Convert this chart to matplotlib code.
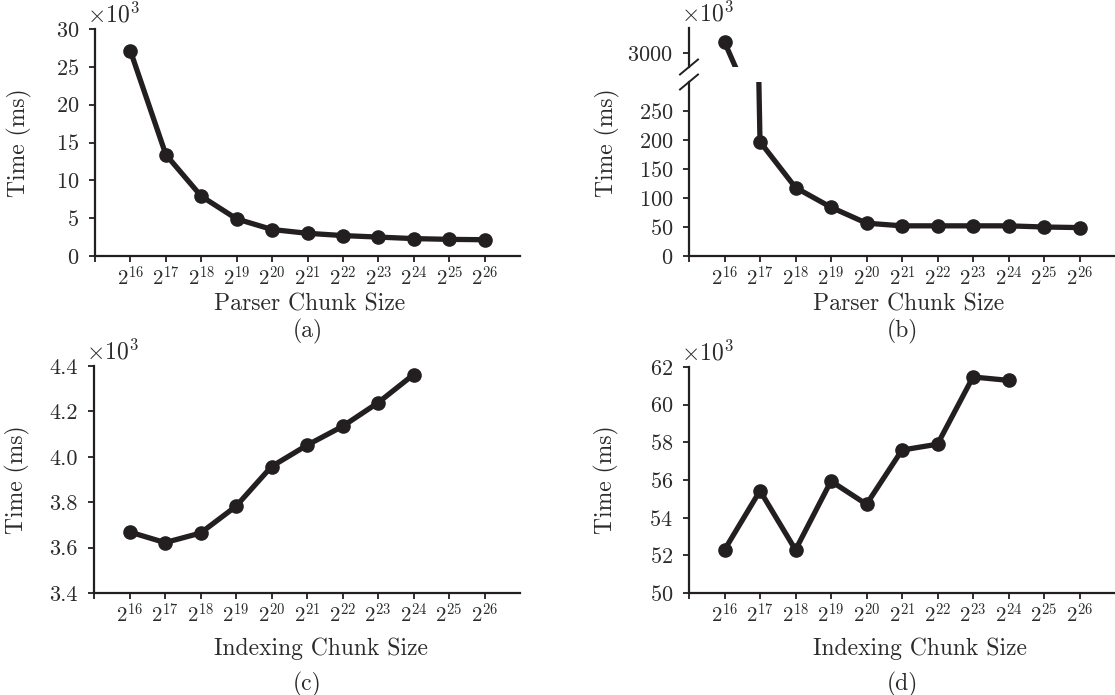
import numpy as np
import matplotlib
matplotlib.use('Agg')
import matplotlib.pyplot as plt

plt.rcParams['font.family'] = 'serif'
plt.rcParams['font.serif'] = ['cmr10']
plt.rcParams['mathtext.fontset'] = 'cm'
plt.rcParams['axes.formatter.use_mathtext'] = True
plt.rcParams['axes.unicode_minus'] = False

# ---------------- data ----------------
exponents = [16, 17, 18, 19, 20, 21, 22, 23, 24, 25, 26]
tick_labels = [''] + [f'$2^{{{e}}}$' for e in exponents]

# (a) parser chunk size, time (x10^3 ms)
parser_a = [27.1, 13.4, 7.9, 4.9, 3.5, 3.0, 2.7, 2.5, 2.3, 2.2, 2.15]
# (b) parser chunk size, time (x10^3 ms), broken axis
parser_b = [3440, 197, 118, 84, 56.6, 52, 52, 52, 52, 50, 49]
# (c) indexing chunk size, time (x10^3 ms)
index_c = [3.669, 3.622, 3.664, 3.782, 3.957, 4.051, 4.134, 4.238, 4.362]
# (d) indexing chunk size, time (x10^3 ms)
index_d = [52.29, 55.43, 52.29, 55.94, 54.71, 57.59, 57.90, 61.47, 61.29]

COL = '#231f20'
TXT = '#2b2b2b'
LW = 3.8
MS = 9.5
FS_TICK = 16
FS_LAB = 17
FS_X = 15

W, H = 1115, 695
fig = plt.figure(figsize=(W / 100, H / 100), dpi=100)


def rect(l, r, t, b):
    return [l / W, 1 - b / H, (r - l) / W, (b - t) / H]


def style(ax, bottom=True):
    for s in ['top', 'right']:
        ax.spines[s].set_visible(False)
    for s in ['left', 'bottom']:
        ax.spines[s].set_linewidth(1.6)
        ax.spines[s].set_color(COL)
    ax.tick_params(direction='out', length=4, width=1.3, colors=COL,
                   labelsize=FS_TICK, labelcolor=TXT)
    ax.tick_params(axis='x', pad=3, labelsize=FS_X)
    ax.tick_params(axis='y', pad=7.5)
    ax.set_xlim(0, 12)
    if bottom:
        ax.set_xticks(np.arange(0, 12))
        ax.set_xticklabels(tick_labels)


def xpos(vals):
    return np.arange(1, len(vals) + 1)


def times10(ax):
    ax.annotate(r'$\times10^3$', xy=(0, 1), xycoords='axes fraction',
                xytext=(-5.5, 1.5), textcoords='offset points',
                ha='left', va='bottom', fontsize=17, color=TXT)


def labels(ax, xl, cap, ylab_x, ylab_y, xl_x, xl_y, cap_off):
    ax.set_ylabel('Time (ms)', fontsize=FS_LAB, color=TXT)
    ax.yaxis.set_label_coords(ylab_x, ylab_y)
    ax.set_xlabel(xl, fontsize=FS_LAB, color=TXT)
    ax.xaxis.set_label_coords(xl_x, xl_y)
    ax.annotate(cap, xy=(0.5, 0), xycoords='axes fraction',
                xytext=(0, -cap_off), textcoords='offset points',
                ha='center', va='center', fontsize=FS_LAB, color=TXT)


def draw(ax, vals):
    ax.plot(xpos(vals), vals, color=COL, lw=LW, marker='o', ms=MS,
            solid_joinstyle='round', solid_capstyle='round')


# (a)
axa = fig.add_axes(rect(95, 520, 29, 256))
style(axa)
draw(axa, parser_a)
axa.set_ylim(0, 30)
axa.set_yticks([0, 5, 10, 15, 20, 25, 30])
times10(axa)
labels(axa, 'Parser Chunk Size', '(a)', -0.148, 0.5, 0.506, -0.165, 54)

# (b) broken axis
axb = fig.add_axes(rect(689, 1115, 82, 256))
style(axb)
draw(axb, parser_b)
axb.set_ylim(0, 300)
axb.set_yticks([0, 50, 100, 150, 200, 250])
labels(axb, 'Parser Chunk Size', '(b)', -0.162, 0.65, 0.515,
       -0.165 * 227 / 174, 54)

axb2 = fig.add_axes(rect(689, 1115, 28, 67))
style(axb2, bottom=False)
axb2.spines['bottom'].set_visible(False)
axb2.set_xticks([])
draw(axb2, parser_b)
axb2.set_ylim(2440, 4000)
axb2.set_yticks([3000])
times10(axb2)

# break marks
kw = dict(color=COL, lw=1.4, clip_on=False)
dx = 9 / 426
axb.plot([-dx, dx], [1 - 7.5 / 174, 1 + 7.5 / 174], transform=axb.transAxes, **kw)
axb2.plot([-dx, dx], [-7.5 / 39, 7.5 / 39], transform=axb2.transAxes, **kw)

# (c)
axc = fig.add_axes(rect(94, 520, 366, 593))
style(axc)
draw(axc, index_c)
axc.set_ylim(3.4, 4.4)
axc.set_yticks([3.4, 3.6, 3.8, 4.0, 4.2, 4.4])
axc.set_yticklabels(['3.4', '3.6', '3.8', '4.0', '4.2', '4.4'])
times10(axc)
labels(axc, 'Indexing Chunk Size', '(c)', -0.150, 0.5, 0.532, -0.195, 66)

# (d)
axd = fig.add_axes(rect(689, 1115, 367, 593))
style(axd)
draw(axd, index_d)
axd.set_ylim(50, 62)
axd.set_yticks([50, 52, 54, 56, 58, 60, 62])
times10(axd)
labels(axd, 'Indexing Chunk Size', '(d)', -0.164, 0.5, 0.542, -0.195, 66)

fig.savefig('out.png', dpi=100)
